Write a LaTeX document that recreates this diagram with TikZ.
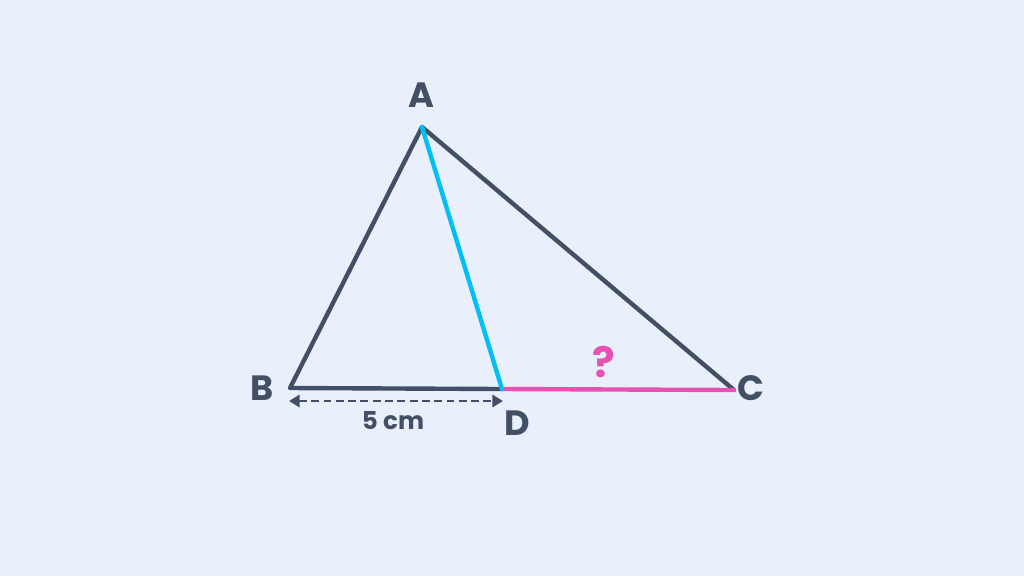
\documentclass[tikz,border=0pt]{standalone}
\usepackage{fontspec}
\setmainfont{Poppins}
\usetikzlibrary{arrows.meta}
\definecolor{bg}{HTML}{EAF0FB}
\definecolor{slate}{HTML}{434F64}
\definecolor{cyanl}{HTML}{00BFF5}
\definecolor{pinkl}{HTML}{E552B4}
\begin{document}
\begin{tikzpicture}[x=0.02cm,y=-0.02cm,
  side/.style={line width=2.5pt,line cap=round,line join=round},
  lbl/.style={font=\fontsize{20}{24}\selectfont\bfseries,text=slate},
  meas/.style={dashed,line width=1.3pt,slate,dash pattern=on 4.5pt off 2.5pt,{Triangle[length=6pt,width=7pt]}-{Triangle[length=6pt,width=7pt]}}]
\fill[bg] (0,0) rectangle (1024,576);
\useasboundingbox (0,0) rectangle (1024,576);
\coordinate (A) at (422,127);
\coordinate (B) at (290,388);
\coordinate (D) at (502,389);
\coordinate (C) at (734,390);
\coordinate (m1) at (289,401);
\coordinate (m2) at (503,401);
\draw[side,slate] (D) -- (B) -- (A) -- (C);
\draw[side,pinkl] (D) -- (C);
\draw[side,cyanl] (A) -- (D);
\draw[meas] (m1) -- (m2);
\node[lbl] (lA) at (421,95) {A};
\node[lbl] (lB) at (262,388) {B};
\node[lbl] (lC) at (751,388) {C};
\node[lbl] (lD) at (517,423) {D};
\node[font=\fontsize{24}{28}\selectfont\bfseries,text=pinkl] (q) at (604,362) {?};
\node[font=\fontsize{14}{17}\selectfont\bfseries,text=slate] (len) at (393,421) {5 cm};
\end{tikzpicture}
\end{document}
